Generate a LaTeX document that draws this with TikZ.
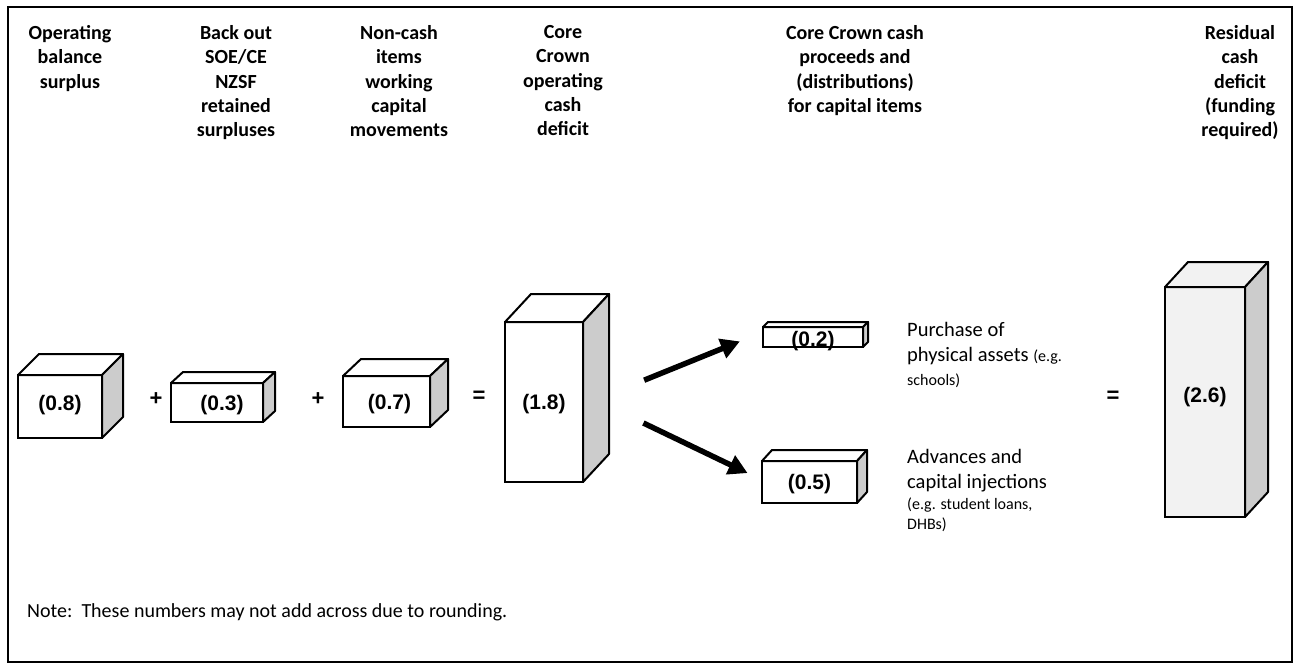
\documentclass[tikz,border=0pt]{standalone}
\usepackage{fontspec}
\setmainfont{Carlito}
\newfontfamily\arialfont{Liberation Sans}
\usepackage{tikz}
\usetikzlibrary{arrows.meta}
\definecolor{sidegray}{HTML}{CCCCCC}
\definecolor{palegray}{HTML}{F2F2F2}
\newcommand\egsize{\fontsize{16}{18}\selectfont}

\begin{document}
\begin{tikzpicture}[x=1pt, y=-1pt,
        cube/.style={rectangle, draw, line width=2pt, fill=white, inner sep=0pt, outer sep=0pt, text height=15pt, text depth=0pt, font=\arialfont\bfseries\fontsize{21}{24}\selectfont},
        face/.style={draw, line width=2pt, line join=round},
        heading/.style={anchor=north, align=center, inner sep=0pt, font=\bfseries\fontsize{20}{24.4}\selectfont},
        caption/.style={anchor=north west, align=left, inner sep=0pt, font=\fontsize{20.5}{25}\selectfont},
        sign/.style={inner sep=0pt, font=\arialfont\bfseries\fontsize{22}{24}\selectfont},
        flow/.style={-{Triangle[length=19pt, width=20pt]}, line width=5.5pt}
    ]
    \useasboundingbox (0,0) rectangle (1295,664);
    \draw[line width=2pt] (8,7) rectangle (1292,662);

    % column headings
    \node[heading] (h-op) at (70,25) {Operating\\balance\\surplus};
    \node[heading] (h-soe) at (236,25) {Back out\\SOE/CE\\NZSF\\retained\\surpluses};
    \node[heading] (h-nc) at (399,25) {Non-cash\\items\\working\\capital\\movements};
    \node[heading] (h-core) at (563,25) {Core\\Crown\\operating\\cash\\deficit};
    \node[heading] (h-cap) at (855,25) {Core Crown cash\\proceeds and\\(distributions)\\for capital items};
    \node[heading] (h-res) at (1240,25) {Residual\\cash\\deficit\\(funding\\required)};

    % front faces
    \node[cube, text depth=8pt, minimum width=84pt, minimum height=63pt] (a) at (60,406.5) {(0.8)};
    \node[cube, minimum width=92pt, minimum height=39pt] (b) at (217,402.5) {\hspace{10pt}(0.3)};
    \node[cube, minimum width=87pt, minimum height=51pt] (c) at (386.5,401.5) {\hspace{6pt}(0.7)};
    \node[cube, minimum width=78pt, minimum height=160pt] (d) at (544,402) {(1.8)};
    \node[cube, text height=19pt, minimum width=100pt, minimum height=20pt] (e) at (813,337) {(0.2)};
    \node[cube, minimum width=95pt, minimum height=42pt] (f) at (809.5,482) {(0.5)};
    \node[cube, fill=palegray, text depth=14pt, minimum width=80pt, minimum height=230pt] (g) at (1205,402) {(2.6)};

    % top and side faces
    \foreach \b/\dx/\dy/\c in {a/21/21/white, b/12/11/white, c/18/17/white, d/26/28/white, e/5/5/white, f/10/11/white, g/23/25/palegray} {
        \draw[face, fill=\c] (\b.north west) -- ++(\dx,-\dy) -- ([shift={(\dx,-\dy)}]\b.north east) -- (\b.north east) -- cycle;
        \draw[face, fill=sidegray] (\b.north east) -- ++(\dx,-\dy) -- ([shift={(\dx,-\dy)}]\b.south east) -- (\b.south east) -- cycle;
    }

    \node[sign] (plus1) at (156,399) {+};
    \node[sign] (plus2) at (318,399) {+};
    \node[sign] (eq1) at (479,397) {=};
    \node[sign] (eq2) at (1113,397) {=};

    \draw[flow, shorten <=66pt, shorten >=25pt] ([yshift=-3pt]d.east) -- ([yshift=5pt]e.west);
    \draw[flow, shorten <=67pt, shorten >=16pt] ([yshift=8pt]d.east) -- ([yshift=2pt]f.west);

    \node[caption] (buy) at (907,322) {Purchase of\\physical assets {\egsize(e.g.}\\[-1pt]{\egsize schools)}};
    \node[caption] (adv) at (907,449) {Advances and\\capital injections\\[-4pt]{\egsize(e.g. student loans,}\\[-5pt]{\egsize DHBs)}};

    \node[anchor=base west, inner sep=0pt, font=\fontsize{20}{24}\selectfont] (note) at (27,617) {Note:\ \ These numbers may not add across due to rounding.};
\end{tikzpicture}
\end{document}
